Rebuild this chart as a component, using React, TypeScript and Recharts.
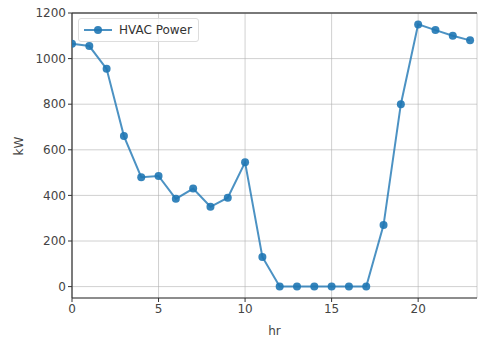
import React from "react";
import { LineChart, Line, XAxis, YAxis, CartesianGrid, ReferenceLine, Legend } from "recharts";

const hours = [0, 1, 2, 3, 4, 5, 6, 7, 8, 9, 10, 11, 12, 13, 14, 15, 16, 17, 18, 19, 20, 21, 22, 23];
const hvacPower = [1065, 1055, 955, 660, 480, 485, 385, 430, 350, 390, 545, 130, 0, 0, 0, 0, 0, 0, 270, 800, 1150, 1125, 1100, 1080];
const xTicks = [0, 5, 10, 15, 20];
const yTicks = [0, 200, 400, 600, 800, 1000, 1200];

const data = hours.map((h, i) => ({ hr: h, power: hvacPower[i] }));

const BLUE = "#1f77b4";
const FONT = "DejaVu Sans, sans-serif";

const LegendBox = () => (
  <div
    style={{
      position: "absolute",
      left: 78,
      top: 18,
      width: 121,
      height: 24,
      border: "1px solid #dddddd",
      borderRadius: 3,
      background: "rgba(255,255,255,0.8)",
      fontFamily: FONT,
      fontSize: 12,
      color: "#333",
      display: "flex",
      alignItems: "center",
      boxSizing: "border-box",
    }}
  >
    <svg width={36} height={20} style={{ marginLeft: 2 }}>
      <line x1={3} y1={10} x2={31} y2={10} stroke={BLUE} strokeOpacity={0.8} strokeWidth={2} />
      <circle cx={17} cy={10} r={4} fill={BLUE} fillOpacity={0.9} />
    </svg>
    <span style={{ marginLeft: 2 }}>HVAC Power</span>
  </div>
);

export default function App() {
  return (
    <div style={{ position: "absolute", left: 0, top: 0, width: 479, height: 341, background: "#fff" }}>
      <LineChart width={479} height={341} data={data} margin={{ top: 13, right: 2, left: 0, bottom: 0 }}>
        <CartesianGrid stroke="#b0b0b0" strokeOpacity={0.6} strokeWidth={1} />
        <XAxis
          dataKey="hr"
          type="number"
          domain={[0, 23.4]}
          ticks={xTicks}
          allowDataOverflow
          height={43}
          tick={{ fontFamily: FONT, fontSize: 12, fill: "#444" }}
          tickLine={{ stroke: "#333" }}
          tickSize={4}
          axisLine={{ stroke: "#333", strokeWidth: 1.2 }}
          label={{ value: "hr", position: "insideBottom", offset: 6, style: { fontFamily: FONT, fontSize: 12, fill: "#444" } }}
        />
        <YAxis
          type="number"
          domain={[-50, 1200]}
          ticks={yTicks}
          allowDataOverflow
          width={72}
          tick={{ fontFamily: FONT, fontSize: 12, fill: "#444" }}
          tickLine={{ stroke: "#333" }}
          tickSize={4}
          axisLine={{ stroke: "#333", strokeWidth: 1.2 }}
          label={{ value: "kW", angle: -90, position: "insideLeft", offset: 19, style: { fontFamily: FONT, fontSize: 12, fill: "#444" } }}
        />
        <ReferenceLine y={1200} stroke="#555" strokeWidth={1.5} />
        <Legend content={() => <LegendBox />} wrapperStyle={{ position: "absolute", left: 0, top: 0, width: 0, height: 0 }} />
        <Line
          dataKey="power"
          name="HVAC Power"
          stroke={BLUE}
          strokeOpacity={0.8}
          strokeWidth={2}
          dot={{ r: 4, fill: BLUE, fillOpacity: 0.9, stroke: "none" }}
          activeDot={false}
          isAnimationActive={false}
        />
      </LineChart>
    </div>
  );
}
